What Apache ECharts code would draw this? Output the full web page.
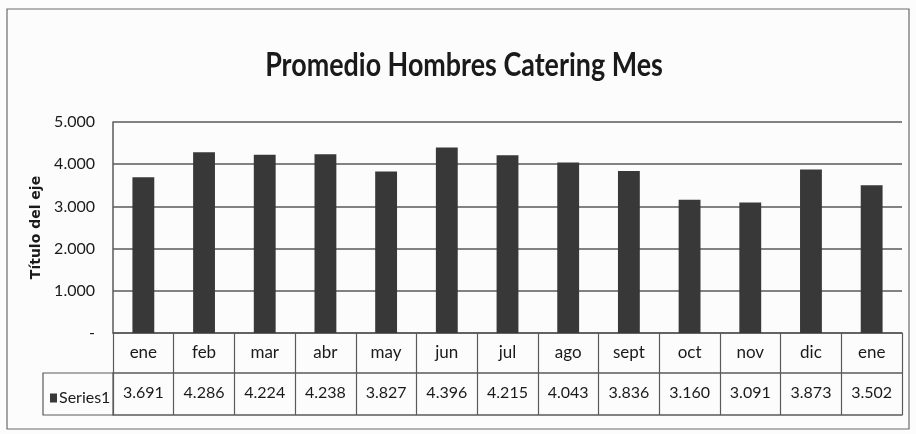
<!DOCTYPE html>
<html><head><meta charset="utf-8">
<script src="https://cdn.jsdelivr.net/npm/echarts@6/dist/echarts.min.js"></script>
<style>html,body{margin:0;padding:0;background:#fff}#c{width:916px;height:434px}</style>
</head><body><div id="c"></div>
<script>
const titleText = 'Promedio Hombres Catering Mes';
const axisTitle = 'Título del eje';
const seriesName = 'Series1';
const categories = ['ene','feb','mar','abr','may','jun','jul','ago','sept','oct','nov','dic','ene'];
const values = [3691, 4286, 4224, 4238, 3827, 4396, 4215, 4043, 3836, 3160, 3091, 3873, 3502];
const valueLabels = ['3.691','4.286','4.224','4.238','3.827','4.396','4.215','4.043','3.836','3.160','3.091','3.873','3.502'];
const yTickLabels = ['-','1.000','2.000','3.000','4.000','5.000'];

const chart = echarts.init(document.getElementById('c'), null, {renderer:'canvas'});
const lineCol = '#5a5a5a';
chart.setOption({
  backgroundColor: '#fcfcfc',
  animation: false,
  legend: {
    show: true, left: 45, top: 385, itemWidth: 7, itemHeight: 9, itemGap: 4,
    icon: 'rect', selectedMode: false,
    textStyle: {fontFamily: 'Lato', fontSize: 16, color: '#1a1a1a', padding: [0,0,0,-3]}
  },
  grid: {left: 113, right: 14, top: 122, bottom: 101, containLabel: false},
  xAxis: [{
    type: 'category', data: categories, position: 'bottom',
    axisLine: {show: true, lineStyle: {color: lineCol, width: 1.5}},
    axisTick: {show: true, length: 82, interval: 0, lineStyle: {color: lineCol, width: 1.2}},
    axisLabel: {margin: 11, interval: 0, fontFamily: 'Lato', fontSize: 17, color: '#1a1a1a'}
  }, {
    type: 'category', data: valueLabels, position: 'bottom', offset: 40,
    axisLine: {show: true, lineStyle: {color: lineCol, width: 1.5}},
    axisTick: {show: false},
    axisLabel: {margin: 12, interval: 0, fontFamily: 'Lato', fontSize: 16, color: '#1a1a1a'}
  }, {
    type: 'category', data: categories, position: 'bottom', offset: 82,
    axisLine: {show: true, lineStyle: {color: lineCol, width: 1.5}},
    axisTick: {show: false}, axisLabel: {show: false}
  }],
  yAxis: {
    type: 'value', min: 0, max: 5000, interval: 1000,
    name: axisTitle, nameLocation: 'middle', nameGap: 63, nameRotate: 90,
    nameTextStyle: {fontFamily: 'DejaVu Sans', fontWeight: 'bold', fontSize: 14, color: '#1a1a1a'},
    axisLine: {show: true, lineStyle: {color: lineCol, width: 1.5}},
    axisTick: {show: false},
    axisLabel: {margin: 18, fontFamily: 'Lato', fontSize: 16, color: '#1a1a1a',
      formatter: (v) => yTickLabels[Math.round(v / 1000)]},
    splitLine: {show: true, lineStyle: {color: lineCol, width: 1.5}}
  },
  series: [{
    name: seriesName, type: 'bar', data: values, xAxisIndex: 0,
    barWidth: '36%',
    itemStyle: {color: '#383838'}
  }],
  graphic: [
    {type: 'rect', shape: {x: 7, y: 9, width: 902, height: 420}, silent: true,
     style: {fill: 'none', stroke: '#6a6a6a', lineWidth: 1.2}},
    {type: 'rect', shape: {x: 43, y: 373, width: 70, height: 42}, silent: true,
     style: {fill: 'none', stroke: lineCol, lineWidth: 1.2}},
    {type: 'text', x: 464, y: 66, scaleX: 0.84, silent: true,
     style: {text: titleText, fontFamily: 'Lato', fontWeight: 'bold', fontSize: 32,
       fill: '#1a1a1a', textAlign: 'center', textVerticalAlign: 'middle'}}
  ]
});
</script></body></html>
